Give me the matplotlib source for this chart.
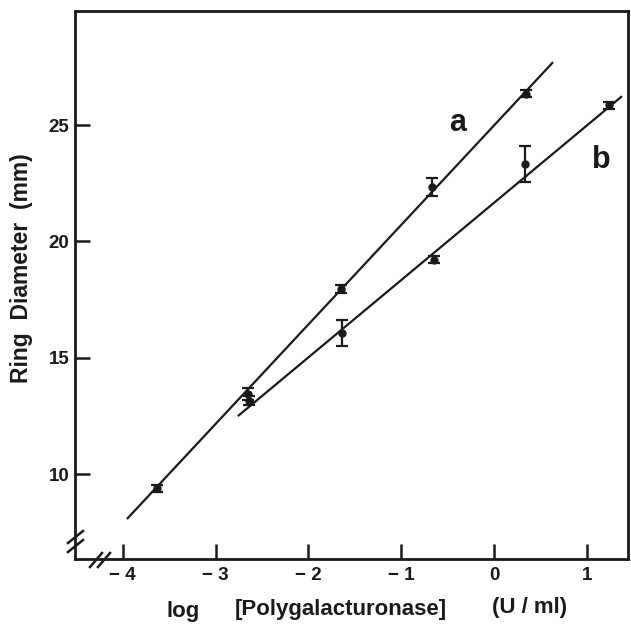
import matplotlib
matplotlib.use("Agg")
import matplotlib.pyplot as plt
from matplotlib.lines import Line2D

plt.rcParams['font.family'] = ['Liberation Sans', 'DejaVu Sans']
plt.rcParams['font.weight'] = 'bold'

# Data
a_x = [-3.63, -2.65, -1.65, -0.67, 0.345]
a_y = [9.40, 13.45, 17.95, 22.33, 26.35]
a_err = [0.15, 0.25, 0.17, 0.39, 0.15]

b_x = [-2.64, -1.64, -0.65, 0.33, 1.24]
b_y = [13.15, 16.06, 19.20, 23.32, 25.85]
b_err = [0.2, 0.55, 0.15, 0.77, 0.15]

# fitted lines (end points)
a_line_x = [-3.955, 0.636]
a_line_y = [8.07, 27.70]
b_line_x = [-2.76, 1.38]
b_line_y = [12.49, 26.24]

x_ticks = [-4, -3, -2, -1, 0, 1]
x_ticklabels = ['\u2212 4', '\u2212 3', '\u2212 2', '\u2212 1', '0', '1']
y_ticks = [10, 15, 20, 25]
y_ticklabels = ['10', '15', '20', '25']

fig = plt.figure(figsize=(6.31, 6.31), dpi=100)
ax = fig.add_axes([75/631, (631-559)/631, (628-75)/631, (559-11)/631])
ax.set_xlim(-4.515, 1.444)
ax.set_ylim(6.35, 29.9)

col = '#1a1a1a'
ax.plot(a_line_x, a_line_y, color=col, lw=1.6, solid_capstyle='butt')
ax.plot(b_line_x, b_line_y, color=col, lw=1.6, solid_capstyle='butt')
for xs, ys, es in [(a_x, a_y, a_err), (b_x, b_y, b_err)]:
    ax.errorbar(xs, ys, yerr=es, fmt='o', color=col, ms=5, capsize=4.5,
                elinewidth=1.6, capthick=1.6)

ax.text(-0.39, 25.1, 'a', fontsize=22, fontweight='bold', ha='center', va='center', color=col)
ax.text(1.16, 23.5, 'b', fontsize=22, fontweight='bold', ha='center', va='center', color=col)

for s in ax.spines.values():
    s.set_linewidth(2.0)
    s.set_color(col)

ax.set_xticks(x_ticks)
ax.set_xticklabels(x_ticklabels)
ax.set_yticks(y_ticks)
ax.set_yticklabels(y_ticklabels)
ax.tick_params(direction='in', length=11, width=1.8, color=col, labelsize=13.5,
               labelcolor=col, pad=6)
ax.tick_params(axis='y', pad=4)
for lab in ax.get_xticklabels() + ax.get_yticklabels():
    lab.set_fontweight('bold')

# y label
fig.text(22/631, 1 - 268/631, 'Ring  Diameter  (mm)', fontsize=16.5, fontweight='bold',
         rotation=90, ha='center', va='center', color=col)

# x label pieces
fig.text(183/631, 1 - 612/631, 'log', fontsize=16, fontweight='bold', ha='center', va='center', color=col)
fig.text(341/631, 1 - 610/631, '[Polygalacturonase]', fontsize=16, fontweight='bold', ha='center', va='center', color=col)
fig.text(530/631, 1 - 607/631, '(U / ml)', fontsize=16, fontweight='bold', ha='center', va='center', color=col)

# axis break marks
def slash(x0, y0, x1, y1):
    fig.add_artist(Line2D([x0/631, x1/631], [1 - y0/631, 1 - y1/631],
                          color=col, lw=1.8, transform=fig.transFigure))
# on y axis
slash(68, 543, 83, 531)
slash(68, 552, 83, 540)
# on x axis
slash(90, 567, 102, 553)
slash(98, 567, 110, 553)

fig.savefig('out.png', dpi=100, facecolor='white')
